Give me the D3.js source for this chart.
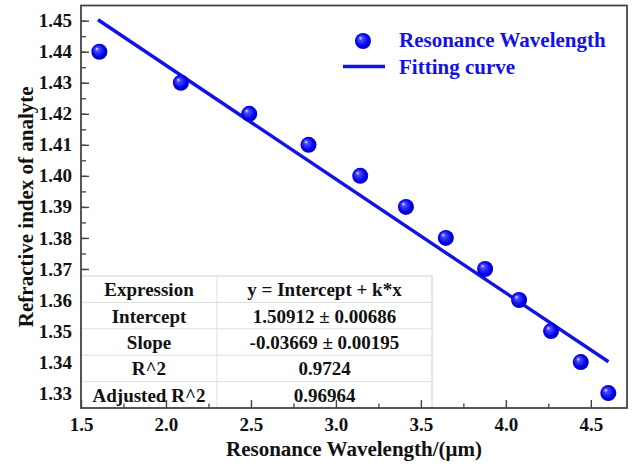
<!DOCTYPE html>
<html>
<head>
<meta charset="utf-8">
<script src="https://cdn.jsdelivr.net/npm/d3@7"></script>
<style>
  body { margin: 0; background: #fff; }
  svg text { font-family: "Liberation Serif", Tinos, "Times New Roman", "DejaVu Serif", serif !important; font-weight: bold; }
</style>
</head>
<body>
<div id="chart"></div>
<script>
// data
var wavelength = [1.608, 2.088, 2.490, 2.839, 3.143, 3.412, 3.647, 3.878, 4.078, 4.266, 4.441, 4.603];
var refIndex   = [1.44, 1.43, 1.42, 1.41, 1.40, 1.39, 1.38, 1.37, 1.36, 1.35, 1.34, 1.33];
var fitX = [1.60, 4.604];
var fitY = [1.4503, 1.3401];
var xTicks = [1.5, 2.0, 2.5, 3.0, 3.5, 4.0, 4.5];
var yTicks = [1.33, 1.34, 1.35, 1.36, 1.37, 1.38, 1.39, 1.40, 1.41, 1.42, 1.43, 1.44, 1.45];
var tableKeys = ["Expression", "Intercept", "Slope", "R^2", "Adjusted R^2"];
var tableVals = ["y = Intercept + k*x", "1.50912 \u00b1 0.00686", "-0.03669 \u00b1 0.00195", "0.9724", "0.96964"];
var legendLabels = ["Resonance Wavelength", "Fitting curve"];

var width = 638, height = 464;
var margin = {top: 5.5, right: 11, bottom: 56, left: 81};
var blue = "#1212e6";
var serif = "'Liberation Serif', Tinos, 'Times New Roman', 'DejaVu Serif', serif";

var svg = d3.select("#chart").append("svg")
  .attr("width", width)
  .attr("height", height)
  .attr("font-family", serif);

var defs = svg.append("defs");
var grad = defs.append("radialGradient")
  .attr("id", "ball")
  .attr("cx", "50%").attr("cy", "50%").attr("r", "55%")
  .attr("fx", "32%").attr("fy", "30%");
grad.append("stop").attr("offset", "0%").attr("stop-color", "#e8e8ff");
grad.append("stop").attr("offset", "22%").attr("stop-color", "#4a4aff");
grad.append("stop").attr("offset", "70%").attr("stop-color", "#0000ee");
grad.append("stop").attr("offset", "100%").attr("stop-color", "#0000a8");

var x = d3.scaleLinear()
  .domain([1.5, 4.713])
  .range([margin.left, width - margin.right]);

var y = d3.scaleLinear()
  .domain([1.3252, 1.4549])
  .range([height - margin.bottom, margin.top]);

// y axis (under the table)
var yMinor = d3.range(1.325, 1.4551, 0.005).filter(d => y(d) >= margin.top && y(d) <= height - margin.bottom);
svg.append("g")
  .attr("transform", `translate(${margin.left},0)`)
  .call(d3.axisLeft(y).tickValues(yMinor).tickSizeInner(-5).tickSizeOuter(0).tickFormat(""))
  .call(g => g.select(".domain").remove())
  .selectAll("line").attr("stroke", "#444").attr("stroke-width", 1.3);

svg.append("g")
  .attr("class", "yAxis")
  .attr("transform", `translate(${margin.left},0)`)
  .call(d3.axisLeft(y).tickValues(yTicks).tickSizeInner(-8).tickSizeOuter(0).tickPadding(9)
    .tickFormat(d3.format(".2f")))
  .attr("font-family", serif)
  .call(g => g.select(".domain").remove())
  .call(g => g.selectAll("line").attr("stroke", "#444").attr("stroke-width", 1.4))
  .selectAll("text")
    .style("font-size", "19px")
    .attr("fill", "#111");

// fit line
svg.append("path")
  .datum(d3.zip(fitX, fitY))
  .attr("fill", "none")
  .attr("stroke", blue)
  .attr("stroke-width", 3.4)
  .attr("d", d3.line().x(d => x(d[0])).y(d => y(d[1])));

// points
svg.append("g").selectAll("circle")
  .data(d3.zip(wavelength, refIndex))
  .join("circle")
  .attr("cx", d => x(d[0]))
  .attr("cy", d => y(d[1]))
  .attr("r", 8)
  .attr("fill", "url(#ball)");

// table
var tLeft = margin.left, tRight = 432, colDiv = 217;
var rowH = (height - margin.bottom - 276) / tableKeys.length;
var tTop = height - margin.bottom - rowH * tableKeys.length;
var table = svg.append("g").attr("class", "table");
table.append("rect")
  .attr("x", tLeft).attr("y", tTop)
  .attr("width", tRight - tLeft).attr("height", rowH * tableKeys.length)
  .attr("fill", "#fff")
  .attr("stroke", "#cfcfcf");
table.selectAll("line.row")
  .data(d3.range(1, tableKeys.length))
  .join("line")
  .attr("class", "row")
  .attr("x1", tLeft).attr("x2", tRight)
  .attr("y1", i => tTop + i * rowH).attr("y2", i => tTop + i * rowH)
  .attr("stroke", "#dedede");
table.append("line")
  .attr("x1", colDiv).attr("x2", colDiv)
  .attr("y1", tTop).attr("y2", tTop + rowH * tableKeys.length)
  .attr("stroke", "#dedede");
table.selectAll("text.key")
  .data(tableKeys)
  .join("text")
  .attr("class", "key")
  .attr("x", (tLeft + colDiv) / 2)
  .attr("y", (d, i) => tTop + (i + 0.5) * rowH + 7)
  .attr("text-anchor", "middle")
  .style("font-size", "19px")
  .attr("fill", "#111")
  .text(d => d);
table.selectAll("text.val")
  .data(tableVals)
  .join("text")
  .attr("class", "val")
  .attr("x", (colDiv + tRight) / 2)
  .attr("y", (d, i) => tTop + (i + 0.5) * rowH + 7)
  .attr("text-anchor", "middle")
  .style("font-size", "19px")
  .attr("fill", "#111")
  .text(d => d);

// x axis (drawn over the table)
var xMinor = d3.range(1.75, 4.713, 0.5);
svg.append("g")
  .attr("transform", `translate(0,${height - margin.bottom})`)
  .call(d3.axisBottom(x).tickValues(xMinor).tickSizeInner(-4.5).tickSizeOuter(0).tickFormat(""))
  .call(g => g.select(".domain").remove())
  .selectAll("line").attr("stroke", "#444").attr("stroke-width", 1.3);

svg.append("g")
  .attr("class", "xAxis")
  .attr("transform", `translate(0,${height - margin.bottom})`)
  .call(d3.axisBottom(x).tickValues(xTicks).tickSizeInner(-8).tickSizeOuter(0).tickPadding(10)
    .tickFormat(d3.format(".1f")))
  .attr("font-family", serif)
  .call(g => g.select(".domain").remove())
  .call(g => g.selectAll("line").attr("stroke", "#444").attr("stroke-width", 1.4))
  .selectAll("text")
    .style("font-size", "19px")
    .attr("fill", "#111");

// frame
svg.append("rect")
  .attr("x", margin.left).attr("y", margin.top)
  .attr("width", width - margin.right - margin.left)
  .attr("height", height - margin.bottom - margin.top)
  .attr("fill", "none")
  .attr("stroke", "#454545")
  .attr("stroke-width", 1.8);

// axis titles
svg.append("text")
  .attr("x", (margin.left + width - margin.right) / 2)
  .attr("y", 456)
  .attr("text-anchor", "middle")
  .style("font-size", "21px")
  .attr("fill", "#111")
  .text("Resonance Wavelength/(\u03bcm)");

svg.append("text")
  .attr("transform", `translate(33,${(margin.top + height - margin.bottom) / 2}) rotate(-90)`)
  .attr("text-anchor", "middle")
  .style("font-size", "21px")
  .attr("fill", "#111")
  .text("Refractive index of analyte");

// legend
var legend = svg.append("g").attr("class", "legend");
legend.append("circle")
  .attr("cx", 363).attr("cy", 41).attr("r", 8)
  .attr("fill", "url(#ball)");
legend.append("line")
  .attr("x1", 343).attr("x2", 385)
  .attr("y1", 66.5).attr("y2", 66.5)
  .attr("stroke", blue).attr("stroke-width", 3.4);
legend.selectAll("text")
  .data(legendLabels)
  .join("text")
  .attr("x", 399)
  .attr("y", (d, i) => 47 + i * 26.5)
  .style("font-size", "21px")
  .attr("fill", blue)
  .text(d => d);
</script>
</body>
</html>
